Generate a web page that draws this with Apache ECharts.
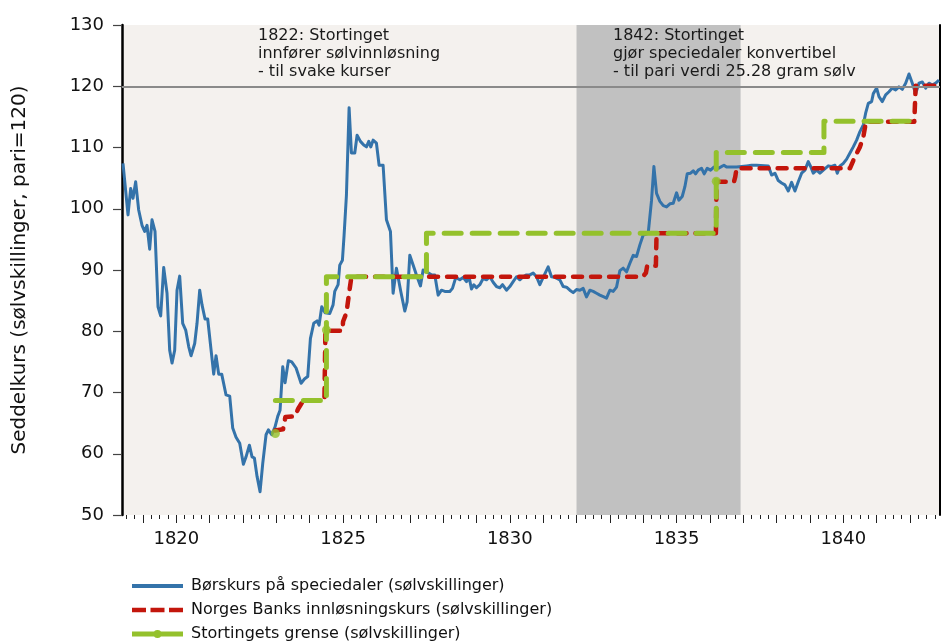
<!DOCTYPE html>
<html>
<head>
<meta charset="utf-8">
<script src="https://cdn.jsdelivr.net/npm/echarts@6/dist/echarts.min.js"></script>
<style>
html,body{margin:0;padding:0;background:#ffffff;}
#chart{width:943px;height:644px;}
</style>
</head>
<body>
<div id="chart"></div>
<script>
// ---------- data ----------
const borsName = 'Børskurs på speciedaler (sølvskillinger)';
const bankName = 'Norges Banks innløsningskurs (sølvskillinger)';
const grenseName = 'Stortingets grense (sølvskillinger)';

const borsYears = [1818.40,1818.55,1818.63,1818.70,1818.78,1818.87,1818.97,1819.05,1819.12,1819.20,1819.27,1819.36,1819.45,1819.53,1819.62,1819.72,1819.80,1819.87,1819.95,1820.02,1820.10,1820.19,1820.28,1820.37,1820.44,1820.55,1820.62,1820.70,1820.77,1820.86,1820.94,1821.03,1821.12,1821.19,1821.27,1821.36,1821.49,1821.60,1821.69,1821.79,1821.90,1822.01,1822.09,1822.19,1822.27,1822.34,1822.42,1822.51,1822.59,1822.69,1822.76,1822.86,1822.96,1823.04,1823.11,1823.19,1823.26,1823.36,1823.46,1823.59,1823.74,1823.84,1823.94,1824.02,1824.12,1824.22,1824.28,1824.36,1824.46,1824.60,1824.70,1824.75,1824.85,1824.90,1824.98,1825.03,1825.10,1825.18,1825.25,1825.35,1825.42,1825.52,1825.62,1825.70,1825.77,1825.83,1825.90,1826.00,1826.08,1826.20,1826.30,1826.42,1826.50,1826.60,1826.73,1826.85,1826.92,1827.00,1827.10,1827.20,1827.32,1827.40,1827.50,1827.65,1827.75,1827.85,1827.95,1828.05,1828.20,1828.28,1828.38,1828.50,1828.60,1828.70,1828.78,1828.85,1828.92,1829.00,1829.10,1829.20,1829.30,1829.40,1829.50,1829.60,1829.70,1829.78,1829.90,1830.00,1830.10,1830.20,1830.30,1830.40,1830.50,1830.60,1830.70,1830.80,1830.90,1831.00,1831.15,1831.25,1831.35,1831.50,1831.60,1831.70,1831.80,1831.90,1832.00,1832.10,1832.20,1832.30,1832.40,1832.50,1832.60,1832.70,1832.82,1832.90,1833.00,1833.10,1833.20,1833.30,1833.40,1833.50,1833.60,1833.70,1833.80,1833.90,1834.00,1834.15,1834.25,1834.32,1834.40,1834.50,1834.60,1834.70,1834.80,1834.90,1835.00,1835.07,1835.17,1835.25,1835.32,1835.42,1835.50,1835.57,1835.65,1835.75,1835.83,1835.92,1836.02,1836.12,1836.25,1836.42,1836.50,1836.65,1836.80,1836.95,1837.10,1837.25,1837.40,1837.75,1837.85,1837.95,1838.05,1838.15,1838.25,1838.35,1838.45,1838.55,1838.65,1838.75,1838.85,1838.95,1839.02,1839.10,1839.20,1839.30,1839.40,1839.55,1839.65,1839.75,1839.82,1839.90,1840.00,1840.10,1840.20,1840.30,1840.40,1840.50,1840.60,1840.67,1840.75,1840.85,1840.90,1841.00,1841.07,1841.17,1841.27,1841.37,1841.47,1841.57,1841.67,1841.77,1841.87,1841.97,1842.07,1842.17,1842.27,1842.37,1842.47,1842.57,1842.67,1842.77,1842.87];
const borsValues = [107.4,99.0,103.3,101.7,104.4,99.8,97.3,96.3,97.3,93.4,98.2,96.3,84.0,82.5,90.4,86.2,76.9,74.8,76.9,86.7,89.0,81.3,80.2,77.5,76.0,78.0,81.3,86.7,84.3,82.0,82.0,77.5,73.0,76.0,73.0,73.0,69.6,69.4,64.2,62.7,61.7,58.3,59.5,61.4,59.5,59.3,56.3,53.8,58.4,63.1,63.9,63.1,64.4,66.1,67.1,74.2,71.6,75.2,75.0,74.0,71.5,72.2,72.6,78.8,81.3,81.7,81.0,84.0,83.0,82.9,84.3,86.5,87.6,90.8,91.6,95.7,102.2,116.5,109.1,109.1,112.0,111.0,110.4,110.1,111.0,110.1,111.2,110.7,107.1,107.1,98.2,96.3,86.2,90.3,86.5,83.3,84.8,92.4,90.8,89.2,87.4,90.0,89.7,89.2,89.2,85.9,86.7,86.5,86.5,87.0,88.8,88.4,88.8,88.1,88.8,86.9,87.6,87.1,87.6,88.6,88.4,88.9,88.0,87.3,87.1,87.6,86.7,87.3,88.1,88.9,88.4,88.9,89.2,89.2,89.5,88.9,87.6,88.8,90.5,88.9,88.8,88.4,87.3,87.2,86.7,86.3,86.8,86.7,87.0,85.6,86.7,86.5,86.2,85.9,85.6,85.4,86.7,86.5,87.2,89.9,90.3,89.7,91.1,92.4,92.2,94.1,95.7,96.0,101.4,106.9,102.5,101.2,100.5,100.3,100.8,100.9,102.6,101.4,102.0,103.6,105.7,105.8,106.2,105.7,106.3,106.6,105.7,106.6,106.3,106.8,106.6,107.1,106.8,106.8,106.8,106.9,107.0,107.1,107.1,107.0,105.5,105.8,104.6,104.2,103.9,102.9,104.3,102.9,104.4,105.8,106.3,107.7,106.9,105.8,106.3,105.8,106.3,107.0,106.9,107.1,105.8,107.0,107.4,108.1,109.1,110.1,111.2,112.6,113.7,115.6,117.2,117.5,118.8,119.7,118.3,117.5,118.6,119.1,119.7,119.4,119.9,119.5,120.5,122.0,120.5,118.8,120.5,120.7,119.7,120.5,120.2,120.5,121.0];

const bankYears = [1822.96,1823.20,1823.27,1823.55,1823.65,1823.75,1823.85,1824.44,1824.47,1824.98,1825.00,1825.10,1825.20,1825.25,1833.98,1834.08,1834.12,1834.38,1834.40,1836.18,1836.20,1836.72,1836.76,1836.80,1840.20,1840.35,1840.50,1840.60,1840.68,1842.13,1842.17,1842.90];
const bankValues = [63.8,64.0,66.0,66.1,67.3,68.2,68.7,68.7,80.1,80.1,81.6,83.0,87.0,88.9,88.9,89.5,90.7,90.7,96.0,96.0,104.4,104.4,105.2,106.6,106.6,108.5,110.1,111.7,114.2,114.2,120.1,120.1];

const grenseYears = [1822.97,1824.50,1824.50,1827.50,1827.50,1836.19,1836.19,1839.42,1839.42,1842.19];
const grenseValues = [68.7,68.7,88.9,88.9,96.0,96.0,109.2,109.2,114.3,114.3];
const grenseDotYears = [1822.97,1824.50,1836.19];
const grenseDotValues = [63.3,80.2,104.5];

const xTickLabels = [1820,1825,1830,1835,1840];
const yTickMin = 50, yTickMax = 130, yTickStep = 10;
const xStart = 1818.37, xEnd = 1842.9;
const shadeYears = [1832.0, 1836.92];
const pariLevel = 120;

const annotation1 = ['1822: Stortinget', 'innfører sølvinnløsning', '- til svake kurser'];
const annotation2 = ['1842: Stortinget', 'gjør speciedaler konvertibel', '- til pari verdi 25.28 gram sølv'];
const yTitle = 'Seddelkurs (sølvskillinger, pari=120)';

// ---------- build ----------
const zip = (xs, ys) => xs.map((x, i) => [x, ys[i]]);
const quarterTicks = [];
for (let q = Math.ceil(xStart * 4); q <= Math.floor(xEnd * 4); q++) quarterTicks.push(q / 4);
const yearTicks = [];
for (let y = Math.ceil(xStart); y <= Math.floor(xEnd); y++) yearTicks.push(y);

const FONT = 'DejaVu Sans';
const BLUE = '#3473aa', RED = '#c3160c', GREEN = '#94c12c';

const chart = echarts.init(document.getElementById('chart'), null, {renderer: 'canvas'});
chart.setOption({
  animation: false,
  backgroundColor: '#ffffff',
  grid: {left: 122, right: 3, top: 25, bottom: 129, show: true, backgroundColor: '#f4f1ee', borderWidth: 0},
  xAxis: [
    {
      type: 'value', min: xStart, max: xEnd, position: 'bottom',
      axisLine: {show: false},
      axisTick: {show: true, customValues: quarterTicks, length: 4, lineStyle: {color: '#222', width: 1}},
      axisLabel: {show: false},
      splitLine: {show: false}
    },
    {
      type: 'value', min: xStart, max: xEnd, position: 'bottom',
      axisLine: {show: false},
      axisTick: {show: true, customValues: yearTicks, length: 8, lineStyle: {color: '#222', width: 1}},
      axisLabel: {show: true, customValues: xTickLabels, margin: 15, fontFamily: FONT, fontSize: 18, color: '#111',
                  formatter: v => String(Math.round(v))},
      splitLine: {show: false}
    }
  ],
  yAxis: [
    {
      type: 'value', min: yTickMin, max: yTickMax, interval: yTickStep, position: 'left',
      name: yTitle, nameLocation: 'middle', nameRotate: 90, nameGap: 92,
      nameTextStyle: {fontFamily: FONT, fontSize: 20, color: '#111'},
      axisLine: {show: true, lineStyle: {color: '#000', width: 2.5}},
      axisTick: {show: true, length: 9, lineStyle: {color: '#444', width: 1.2}},
      axisLabel: {margin: 18, fontFamily: FONT, fontSize: 18, color: '#111'},
      splitLine: {show: false}
    },
    {
      type: 'value', min: yTickMin, max: yTickMax, position: 'right',
      axisLine: {show: true, lineStyle: {color: '#000', width: 2}},
      axisTick: {show: false}, axisLabel: {show: false}, splitLine: {show: false}
    }
  ],
  legend: {
    orient: 'vertical', left: 127, top: 573, height: 120, width: 600,
    itemWidth: 51, itemHeight: 10, itemGap: 8,
    textStyle: {fontFamily: FONT, fontSize: 16, color: '#111', padding: [0, 0, 0, 3]},
    data: [
      {name: borsName, icon: 'path://M0,0H51V4H0Z'},
      {name: bankName, icon: 'path://M0,0H14V4.5H0Z M18.5,0H32.5V4.5H18.5Z M37,0H51V4.5H37Z'},
      {name: grenseName, icon: 'path://M0,2.5H51V7.5H0Z M21.5,5A4,4,0,1,1,29.5,5A4,4,0,1,1,21.5,5Z'}
    ]
  },
  graphic: [
    {type: 'text', left: 258, top: 27, z: 100,
     style: {text: annotation1.join('\n'), font: '16px "DejaVu Sans"', lineHeight: 18, fill: '#1a1a1a'}},
    {type: 'text', left: 613, top: 27, z: 100,
     style: {text: annotation2.join('\n'), font: '16px "DejaVu Sans"', lineHeight: 18, fill: '#1a1a1a'}}
  ],
  series: [
    {
      type: 'line', data: [], z: 1, silent: true,
      markArea: {silent: true, itemStyle: {color: '#c1c1c1'},
                 data: [[{xAxis: shadeYears[0]}, {xAxis: shadeYears[1]}]]}
    },
    {
      type: 'line', data: [], z: 2, silent: true,
      markLine: {silent: true, symbol: 'none', label: {show: false},
                 lineStyle: {color: '#8a8a8a', width: 2, type: 'solid'},
                 data: [{yAxis: pariLevel}]}
    },
    {
      name: borsName, type: 'line', z: 3, symbol: 'none',
      data: zip(borsYears, borsValues),
      itemStyle: {color: BLUE},
      lineStyle: {color: BLUE, width: 3, join: 'round'}
    },
    {
      name: bankName, type: 'line', z: 4, symbol: 'none',
      data: zip(bankYears, bankValues),
      itemStyle: {color: RED},
      lineStyle: {color: RED, width: 4.5, type: [9, 9], cap: 'round', join: 'round'}
    },
    {
      name: grenseName, type: 'line', z: 5, symbol: 'none',
      data: zip(grenseYears, grenseValues),
      itemStyle: {color: GREEN},
      lineStyle: {color: GREEN, width: 5, type: [17, 11], cap: 'round', join: 'round'}
    },
    {
      name: grenseName, type: 'scatter', z: 6, symbol: 'circle', symbolSize: 9,
      data: zip(grenseDotYears, grenseDotValues),
      itemStyle: {color: GREEN}
    }
  ]
});
</script>
</body>
</html>
